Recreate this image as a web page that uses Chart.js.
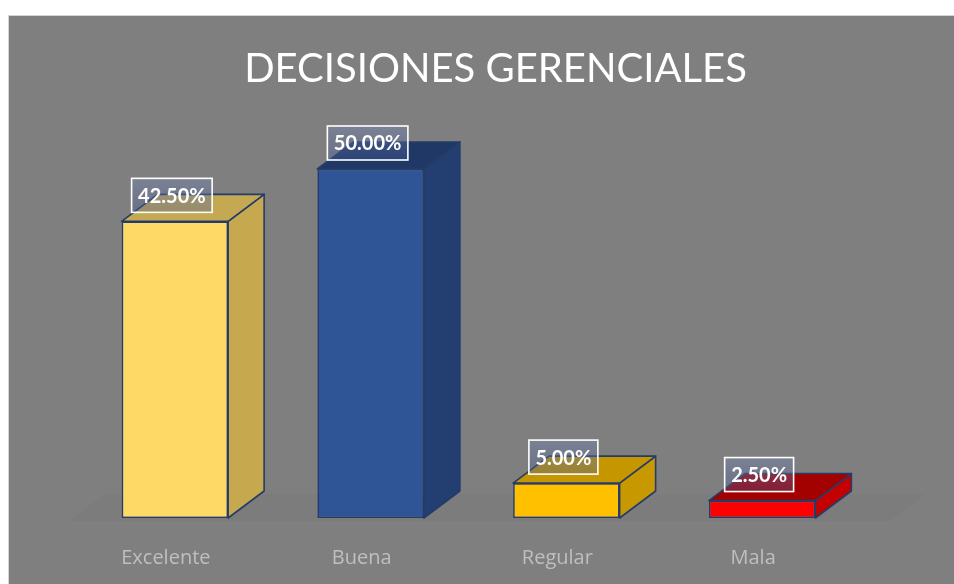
<!DOCTYPE html>
<html>
<head>
<meta charset="utf-8">
<script src="https://cdn.jsdelivr.net/npm/chart.js@4"></script>
<style>
  html, body { margin: 0; padding: 0; background: #ffffff; overflow: hidden; width: 954px; height: 584px; }
  #wrap { position: absolute; left: 8px; top: 15px; width: 973px; height: 569px; background: #7f7f7f; overflow: hidden; }
  #wrap::before { content: ""; position: absolute; left: 0; top: 0; right: 0; height: 1px; background: #d4d4d4; }
  #wrap::after { content: ""; position: absolute; left: 0; top: 0; bottom: 0; width: 1px; background: #d4d4d4; }
  canvas { display: block; }
</style>
</head>
<body>
<div id="wrap"><canvas id="c" width="973" height="569"></canvas></div>
<script>
const categories = ["Excelente", "Buena", "Regular", "Mala"];
const values = [42.5, 50.0, 5.0, 2.5];
const valueLabels = ["42.50%", "50.00%", "5.00%", "2.50%"];
const frontColors = ["#ffd966", "#2f5597", "#ffc000", "#ff0000"];
const topColors = ["#c4a852", "#1f3865", "#c69600", "#a30000"];
const sideColors = ["#c6a84f", "#233f71", "#c79800", "#c40000"];
const chartTitle = "DECISIONES GERENCIALES";

const DX = 36, DY = -27;
const EDGE = "#253c6a";

const box3d = {
  id: "box3d",
  beforeDatasetsDraw(chart) {
    const ctx = chart.ctx;
    const ca = chart.chartArea;
    ctx.save();
    ctx.fillStyle = "rgba(0,0,0,0.025)";
    ctx.beginPath();
    ctx.moveTo(ca.left - 8, ca.bottom + 3);
    ctx.lineTo(ca.right + 30, ca.bottom + 3);
    ctx.lineTo(ca.right + 30 + DX, ca.bottom + 3 + DY);
    ctx.lineTo(ca.left - 8 + DX, ca.bottom + 3 + DY);
    ctx.closePath();
    ctx.fill();
    ctx.restore();

    const meta = chart.getDatasetMeta(0);
    meta.data.forEach((el, i) => {
      const p = el.getProps(["x", "y", "base", "width"], true);
      const l = p.x - p.width / 2, r = p.x + p.width / 2, t = p.y, b = p.base;
      ctx.save();
      ctx.lineJoin = "round";
      ctx.lineWidth = 1.6;
      ctx.strokeStyle = EDGE;
      ctx.fillStyle = sideColors[i];
      ctx.beginPath();
      ctx.moveTo(r, t); ctx.lineTo(r + DX, t + DY); ctx.lineTo(r + DX, b + DY); ctx.lineTo(r, b);
      ctx.closePath(); ctx.fill(); ctx.stroke();
      ctx.fillStyle = topColors[i];
      ctx.beginPath();
      ctx.moveTo(l, t); ctx.lineTo(r, t); ctx.lineTo(r + DX, t + DY); ctx.lineTo(l + DX, t + DY);
      ctx.closePath(); ctx.fill(); ctx.stroke();
      ctx.restore();
    });
  },
  afterDatasetsDraw(chart) {
    const ctx = chart.ctx;
    const meta = chart.getDatasetMeta(0);
    meta.data.forEach((el, i) => {
      const p = el.getProps(["x", "y"], true);
      ctx.save();
      ctx.font = "bold 20px Lato";
      const txt = valueLabels[i];
      const tw = ctx.measureText(txt).width;
      const w = tw + 13, h = 34;
      const cx = p.x - 3;
      const x0 = cx - w / 2, y0 = p.y - 9 - h;
      const g = ctx.createLinearGradient(0, y0, 0, y0 + h);
      g.addColorStop(0, "rgba(120,135,175,0.45)");
      g.addColorStop(1, "rgba(70,90,150,0.35)");
      ctx.fillStyle = g;
      ctx.fillRect(x0, y0, w, h);
      ctx.strokeStyle = "#ffffff";
      ctx.lineWidth = 1.6;
      ctx.strokeRect(x0, y0, w, h);
      ctx.fillStyle = "#ffffff";
      ctx.textAlign = "center";
      ctx.textBaseline = "middle";
      ctx.fillText(txt, cx, y0 + h / 2 + 1);
      ctx.restore();
    });
  }
};

new Chart(document.getElementById("c"), {
  type: "bar",
  data: {
    labels: categories,
    datasets: [{
      data: values,
      backgroundColor: frontColors,
      borderColor: EDGE,
      borderWidth: 1.6,
      borderSkipped: false,
      barPercentage: 1.0,
      categoryPercentage: 0.544,
      yAxisID: "y"
    }]
  },
  options: {
    responsive: false,
    animation: false,
    events: [],
    layout: { padding: { left: 69, right: 67, top: 0, bottom: 0 } },
    plugins: {
      legend: { display: false },
      tooltip: { enabled: false },
      title: {
        display: true,
        text: chartTitle,
        color: "#ffffff",
        font: { family: "Lato", size: 40, weight: "normal" },
        padding: { top: 30.5, bottom: 5.7 }
      }
    },
    scales: {
      x: {
        grid: { display: false, drawTicks: false },
        border: { display: false },
        ticks: {
          color: "#bfbfbf",
          font: { family: "Open Sans", size: 20 },
          padding: 28,
          labelOffset: -9
        },
        afterFit(scale) { scale.height = 66; }
      },
      y: {
        position: "right",
        min: 0,
        max: 60,
        grid: { display: false, drawTicks: false },
        border: { display: false },
        ticks: { display: false },
        afterFit(scale) { scale.width = 54; }
      }
    }
  },
  plugins: [box3d]
});
</script>
</body>
</html>
